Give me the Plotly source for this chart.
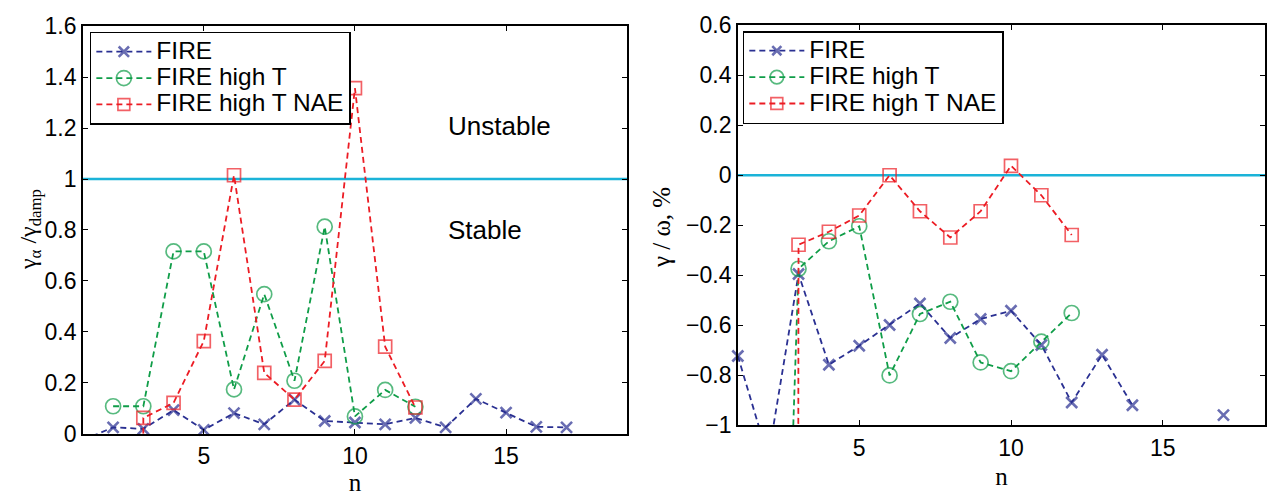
import plotly.graph_objects as go

# ---------------- data ----------------
n_vals = list(range(1, 18))

# Left panel: gamma_alpha / gamma_damp
left_fire = [-0.025, 0.025, 0.019, 0.093, 0.015, 0.081, 0.037, 0.134, 0.05, 0.044,
             0.037, 0.062, 0.025, 0.137, 0.083, 0.027, 0.025]
left_high_n = list(range(2, 13))
left_high = [0.108, 0.108, 0.716, 0.716, 0.174, 0.548, 0.208, 0.813, 0.068, 0.172, 0.106]
left_nae_n = list(range(2, 13))
left_nae = [-50.0, 0.062, 0.121, 0.364, 1.015, 0.239, 0.134, 0.286, 1.357, 0.342, 0.103]

# Right panel: gamma / omega, %
right_fire = [-0.723, -1.13, -0.395, -0.758, -0.682, -0.599, -0.513, -0.651, -0.575, -0.542,
              -0.679, -0.909, -0.718, -0.920, None, None, -0.960]
right_high_n = list(range(2, 13))
right_high = [-4.0, -0.374, -0.264, -0.204, -0.801, -0.555, -0.506, -0.749, -0.784, -0.666, -0.551]
right_nae_n = list(range(2, 13))
right_nae = [-100.0, -0.278, -0.226, -0.161, 0.0, -0.144, -0.249, -0.144, 0.038, -0.08, -0.239]

series_names = ["FIRE", "FIRE high T", "FIRE high T NAE"]
left_threshold = 1.0
right_threshold = 0.0
x_span = [1, 19]
left_yrange = [0, 1.6]
right_yrange = [-1, 0.6]

# ---------------- style ----------------
BLUE = "#2a3092"
GREEN = "#0f9d48"
RED = "#ec1c24"
CYAN = "#1bb3d8"
SANS = "Liberation Sans, Arial, sans-serif"
SERIF = "Liberation Serif, Times New Roman, serif"
DASH = "6px,4px"

W, H = 1267, 496
def fx(px):
    return px / W
def fy(py):
    return 1 - py / H

fig = go.Figure()

def sizes(vals, yr, s):
    return [s if (v is not None and yr[0] - 1e-9 <= v <= yr[1] + 1e-9) else 0 for v in vals]

styles = [
    dict(color=BLUE, symbol="x-thin", size=11, lw=2.6),
    dict(color=GREEN, symbol="circle-open", size=15, lw=1.7),
    dict(color=RED, symbol="square-open", size=13, lw=1.7),
]

def label(name):
    return f'<span style="font-size:24.5px">{name}</span>'

def add_series(xs, ys, st, name, xa, ya, legend, yr):
    fig.add_trace(go.Scatter(
        x=xs, y=ys, name=label(name), mode="lines+markers",
        line=dict(color=st["color"], width=1.8, dash=DASH),
        marker=dict(symbol=st["symbol"], size=sizes(ys, yr, st["size"]),
                    color=st["color"], line=dict(color=st["color"], width=st["lw"])),
        xaxis=xa, yaxis=ya, legend=legend, cliponaxis=False,
    ))

# threshold lines
fig.add_trace(go.Scatter(x=x_span, y=[left_threshold] * 2, mode="lines",
                         line=dict(color=CYAN, width=2.5), showlegend=False,
                         xaxis="x", yaxis="y", hoverinfo="skip"))
fig.add_trace(go.Scatter(x=x_span, y=[right_threshold] * 2, mode="lines",
                         line=dict(color=CYAN, width=2.5), showlegend=False,
                         xaxis="x2", yaxis="y2", hoverinfo="skip"))

add_series(n_vals, left_fire, styles[0], series_names[0], "x", "y", "legend", left_yrange)
add_series(left_high_n, left_high, styles[1], series_names[1], "x", "y", "legend", left_yrange)
add_series(left_nae_n, left_nae, styles[2], series_names[2], "x", "y", "legend", left_yrange)

add_series(n_vals, right_fire, styles[0], series_names[0], "x2", "y2", "legend2", right_yrange)
add_series(right_high_n, right_high, styles[1], series_names[1], "x2", "y2", "legend2", right_yrange)
add_series(right_nae_n, right_nae, styles[2], series_names[2], "x2", "y2", "legend2", right_yrange)

axis_common = dict(showline=True, linecolor="black", linewidth=1.5, mirror="ticks",
                   ticks="inside", ticklen=5, tickwidth=1.2, tickcolor="black",
                   showgrid=False, zeroline=False, ticklabeloverflow="allow",
                   tickfont=dict(family=SANS, size=23, color="black"))

legend_common = dict(xanchor="left", yanchor="top", bgcolor="white", bordercolor="black",
                     borderwidth=1.5, font=dict(family=SANS, size=18, color="black"),
                     itemwidth=55, tracegroupgap=0)

fig.update_layout(
    width=W, height=H, margin=dict(l=0, r=0, t=0, b=0),
    paper_bgcolor="white", plot_bgcolor="white",
    xaxis=dict(domain=[fx(83), fx(628)], range=x_span, tickvals=[5, 10, 15],
               ticklabelstandoff=1,
               title=dict(text="n", font=dict(family=SERIF, size=25, color="black"), standoff=8),
               anchor="y", **axis_common),
    yaxis=dict(domain=[fy(444), fy(14)], range=left_yrange, dtick=0.2, tick0=0,
               anchor="x", **axis_common),
    xaxis2=dict(domain=[fx(739), 1.0], range=[1, 1 + (W - 739) / 30.4], tickvals=[5, 10, 15],
                ticklabelstandoff=1,
                title=dict(text="n", font=dict(family=SERIF, size=25, color="black"), standoff=8),
                anchor="y2", **axis_common),
    yaxis2=dict(domain=[fy(435), fy(13)], range=right_yrange, dtick=0.2, tick0=0,
                anchor="x2", **axis_common),
    legend=dict(x=fx(90), y=fy(20), **legend_common),
    legend2=dict(x=fx(744), y=fy(19), **legend_common),
    annotations=[
        dict(x=13, y=1.21, xref="x", yref="y", text="Unstable", showarrow=False,
             xanchor="left", yanchor="middle", font=dict(family=SANS, size=26, color="black")),
        dict(x=13, y=0.8, xref="x", yref="y", text="Stable", showarrow=False,
             xanchor="left", yanchor="middle", font=dict(family=SANS, size=26, color="black")),
        dict(x=fx(30), y=fy(228), xref="paper", yref="paper", textangle=-90,
             text="γ<sub>α</sub> /γ<sub>damp</sub>", showarrow=False,
             xanchor="center", yanchor="middle", font=dict(family=SERIF, size=24, color="black")),
        dict(x=fx(662), y=fy(226), xref="paper", yref="paper", textangle=-90,
             text="γ / ω, %", showarrow=False,
             xanchor="center", yanchor="middle", font=dict(family=SERIF, size=25, color="black")),
    ],
    showlegend=True,
)

fig.write_html("out.html")
